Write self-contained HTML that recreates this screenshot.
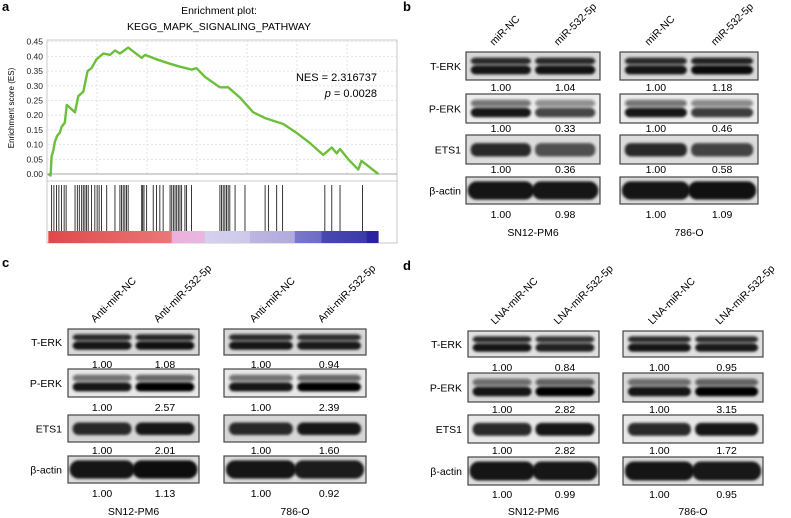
<!DOCTYPE html>
<html><head><meta charset="utf-8"><style>
html,body{margin:0;padding:0;background:#fff;}
svg{display:block;font-family:"Liberation Sans",sans-serif;}
</style></head><body>
<svg id="fig" width="791" height="518" viewBox="0 0 791 518">
<defs>
<filter id="blur" x="-20%" y="-50%" width="140%" height="200%"><feGaussianBlur stdDeviation="1.2"/></filter>
</defs>
<g id="panelA"></g>
<g id="blots"></g>
</svg>
<script>
// ===== Panel a data =====
const esRank = [0,0.007,0.01,0.015,0.02,0.027,0.035,0.04,0.05,0.056,0.081,0.091,0.106,0.119,0.131,0.146,0.167,0.187,0.202,0.217,0.242,0.283,0.293,0.328,0.369,0.399,0.434,0.449,0.475,0.52,0.545,0.581,0.621,0.657,0.712,0.752,0.793,0.833,0.859,0.874,0.884,0.909,0.939,0.949,1.0];
const esValues = [0,-0.005,0.06,0.08,0.11,0.13,0.14,0.16,0.175,0.235,0.21,0.265,0.28,0.35,0.36,0.39,0.41,0.405,0.42,0.41,0.43,0.395,0.405,0.39,0.375,0.365,0.355,0.36,0.33,0.295,0.295,0.26,0.21,0.19,0.17,0.14,0.105,0.065,0.09,0.07,0.085,0.05,0.015,0.045,0.0];
const hitRanks = [0.01,0.017,0.025,0.032,0.04,0.048,0.054,0.081,0.088,0.094,0.101,0.106,0.111,0.116,0.121,0.131,0.141,0.148,0.154,0.161,0.177,0.202,0.217,0.222,0.227,0.232,0.237,0.242,0.283,0.286,0.29,0.298,0.318,0.328,0.338,0.348,0.369,0.374,0.379,0.384,0.389,0.394,0.399,0.404,0.414,0.419,0.434,0.52,0.525,0.53,0.535,0.54,0.545,0.55,0.566,0.596,0.657,0.667,0.692,0.71,0.838,0.859,0.884,0.952];
const yTicks = [0,0.05,0.10,0.15,0.20,0.25,0.30,0.35,0.40,0.45];
const yTickLabels = ["0.00","0.05","0.10","0.15","0.20","0.25","0.30","0.35","0.40","0.45"];

const NS="http://www.w3.org/2000/svg";
function mk(tag,attrs,parent,txt){const e=document.createElementNS(NS,tag);for(const k in attrs)e.setAttribute(k,attrs[k]);if(txt!==undefined)e.textContent=txt;parent.appendChild(e);return e;}

const A=document.getElementById('panelA');
const px0=48.3, px1=378.3, py0=174, py45=41.7;
const xS=r=>px0+r*(px1-px0);
const yS=v=>py0-(v/0.45)*(py0-py45);

let t;
t=mk('text',{x:2,y:11,'font-size':13,'font-weight':'bold'},A,'a');

t=mk('text',{x:219,y:14,'font-size':10.5,'text-anchor':'middle'},A,'Enrichment plot:');

t=mk('text',{x:219,y:30,'font-size':10.5,'text-anchor':'middle'},A,'KEGG_MAPK_SIGNALING_PATHWAY');


let fr=mk('rect',{x:47,y:40,width:350,height:203,fill:'none',stroke:'#bbb','stroke-width':0.8},A);

for(let i=0;i<yTicks.length;i++){
  const y=yS(yTicks[i]);
  const g=mk('line',{x1:47,x2:397,y1:y,y2:y,stroke:'#ddd','stroke-dasharray':'2,2','stroke-width':0.8},A);
  
  const tl=mk('text',{x:43,y:y+3,'font-size':8.5,'text-anchor':'end',fill:'#222'},A,yTickLabels[i]);
  
}
for(let gx=97;gx<397;gx+=50){
  const g=mk('line',{x1:gx,x2:gx,y1:40,y2:176,stroke:'#ddd','stroke-dasharray':'2,2','stroke-width':0.8},A);
  
}
let zl=mk('line',{x1:47,x2:397,y1:py0,y2:py0,stroke:'#aaa','stroke-width':1},A);

let sep=mk('line',{x1:47,x2:397,y1:181,y2:181,stroke:'#bbb','stroke-width':0.8},A);

t=mk('text',{x:0,y:0,'font-size':8,'text-anchor':'middle',transform:'translate(14,108) rotate(-90)'},A,'Enrichment score (ES)');

let d=esRank.map((r,i)=>(i?'L':'M')+xS(r).toFixed(1)+','+yS(esValues[i]).toFixed(1)).join('');
let cv=mk('path',{d:d,fill:'none',stroke:'#6cbf3a','stroke-width':2.4,'stroke-linejoin':'round'},A);

t=mk('text',{x:377,y:81,'font-size':11,'text-anchor':'end'},A,'NES = 2.316737');

t=mk('text',{x:377,y:97,'font-size':11,'text-anchor':'end'},A);
t.innerHTML='<tspan font-style="italic">p</tspan> = 0.0028';

hitRanks.forEach(r=>{
  const l=mk('line',{x1:xS(r),x2:xS(r),y1:185,y2:231,stroke:'#222','stroke-width':0.9},A);
  
});
const segs=[[0,0.374,'#e04848','#ea7878'],[0.374,0.475,'#eab0dc','#e8b8e0'],[0.475,0.611,'#d4d2ee','#ccc8ea'],[0.611,0.747,'#bdb6e2','#b0aade'],[0.747,0.828,'#7878cc','#6c6cc4'],[0.828,0.965,'#4a48b0','#3c3aa8'],[0.965,1,'#2a22a0','#2a22a0']];
segs.forEach((s,i)=>{
  const gid='sg'+i;
  const lg=mk('linearGradient',{id:gid},document.querySelector('defs'));
  mk('stop',{offset:0,'stop-color':s[2]},lg);mk('stop',{offset:1,'stop-color':s[3]},lg);
  const r=mk('rect',{x:xS(s[0]),y:231,width:xS(s[1])-xS(s[0])+0.3,height:12,fill:'url(#'+gid+')'},A);
  
});

// ===== Blot panels =====
const rowNames=['T-ERK','P-ERK','ETS1','β-actin'];
const laneLabelsB=['miR-NC','miR-532-5p','miR-NC','miR-532-5p'];
const laneLabelsC=['Anti-miR-NC','Anti-miR-532-5p','Anti-miR-NC','Anti-miR-532-5p'];
const laneLabelsD=['LNA-miR-NC','LNA-miR-532-5p','LNA-miR-NC','LNA-miR-532-5p'];
const valuesB=[['1.00','1.04','1.00','1.18'],['1.00','0.33','1.00','0.46'],['1.00','0.36','1.00','0.58'],['1.00','0.98','1.00','1.09']];
const valuesC=[['1.00','1.08','1.00','0.94'],['1.00','2.57','1.00','2.39'],['1.00','2.01','1.00','1.60'],['1.00','1.13','1.00','0.92']];
const valuesD=[['1.00','0.84','1.00','0.95'],['1.00','2.82','1.00','3.15'],['1.00','2.82','1.00','1.72'],['1.00','0.99','1.00','0.95']];
const cellLines=['SN12-PM6','786-O'];

const panels=[
 {letter:'b',lx:403,ly:11,labels:laneLabelsB,vals:valuesB,boxes:[[466,600],[620,758]],rowsY:[52,94,135,177],rowsH:[28,29,29,27],valY:[91,132,173,218],cellY:236,nameX:461,bg:['#d8d8d8','#ececec','#dcdcdc','#dadada']},
 {letter:'c',lx:2,ly:267,labels:laneLabelsC,vals:valuesC,boxes:[[68,199],[224,366]],rowsY:[329,369,415,456],rowsH:[26,28,27,27],valY:[368,411,454,497],cellY:515,nameX:62,bg:['#d8d8d8','#e8e8e8','#d6d6d6','#dadada']},
 {letter:'d',lx:403,ly:270,labels:laneLabelsD,vals:valuesD,boxes:[[468,599],[623,763]],rowsY:[331,373,415,457],rowsH:[26,29,28,28],valY:[371,413,454,498],cellY:515,nameX:462,bg:['#e0e0e0','#d8d8d8','#e8e8e8','#dcdcdc']}
];
const B=document.getElementById('blots');
panels.forEach(p=>{
  const g=mk('g',{},B);
  
  let tt=mk('text',{x:p.lx,y:p.ly,'font-size':13,'font-weight':'bold'},g,p.letter);
  
  const lanes=[];
  p.boxes.forEach(b=>{const w=b[1]-b[0];lanes.push([b[0]+w*0.26,w*0.45],[b[0]+w*0.74,w*0.45]);});
  lanes.forEach((ln,i)=>{
    const tx=ln[0]-7, ty=p.rowsY[0]-6;
    const lt=mk('text',{x:0,y:0,'font-size':10.5,transform:`translate(${tx},${ty}) rotate(-45)`},g,p.labels[i]);
    
  });
  p.rowsY.forEach((ry,ri)=>{
    const h=p.rowsH[ri];
    const nt=mk('text',{x:p.nameX,y:ry+h/2+4,'font-size':10.5,'text-anchor':'end'},g,rowNames[ri]);
    
    p.boxes.forEach((b,bi)=>{
      const r=mk('rect',{x:b[0],y:ry,width:b[1]-b[0],height:h,fill:p.bg[ri],stroke:'#444','stroke-width':1.2},g);
      
      for(let li=0;li<2;li++){
        const ln=lanes[bi*2+li];
        const v=parseFloat(p.vals[ri][bi*2+li]);
        const op=Math.max(0.55,Math.min(1,0.6+0.3*v));
        const bg=mk('g',{filter:'url(#blur)',opacity:op},g);
        
        const cx=ln[0], w=ln[1];
        if(ri<2){
          mk('rect',{x:cx-w/2,y:ry+h*0.2,width:w,height:h*0.24,rx:5,fill:'#111',opacity:ri==0?0.95:0.6},bg);
          mk('rect',{x:cx-w/2,y:ry+h*0.48,width:w,height:h*0.32,rx:5,fill:'#050505'},bg);
        }else if(ri==2){
          mk('rect',{x:cx-w/2,y:ry+h*0.28,width:w,height:h*0.46,rx:6,fill:'#151515'},bg);
        }else{
          mk('rect',{x:cx-w/2-3,y:ry+h*0.16,width:w+6,height:h*0.68,rx:9,fill:'#000'},bg);
        }
      }
    });
    for(let li=0;li<4;li++){
      const vt=mk('text',{x:lanes[li][0],y:p.valY[ri],'font-size':10.5,'text-anchor':'middle'},g,p.vals[ri][li]);
      
    }
  });
  p.boxes.forEach((b,bi)=>{
    const ct=mk('text',{x:(b[0]+b[1])/2,y:p.cellY,'font-size':10.5,'text-anchor':'middle'},g,cellLines[bi]);
    
  });
});
</script>
</body></html>
